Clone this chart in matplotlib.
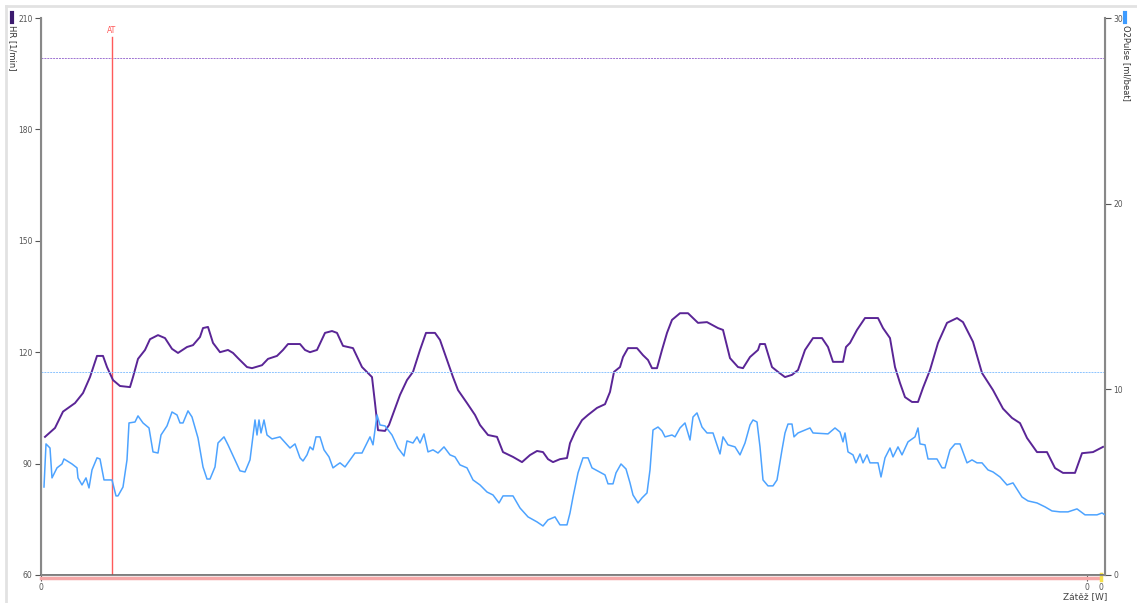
import numpy as np
import matplotlib.pyplot as plt
from matplotlib.lines import Line2D

# heart rate [1/min]: (time, value)
hr_points = [(4, 97.2), (14, 99.6), (22, 104), (34, 106.3), (42, 109), (49, 113.3), (56, 119), (62, 119),
             (66, 116), (72, 112.5), (79, 110.9), (89, 110.6), (92, 113.3), (97, 118.2), (104, 120.6),
             (109, 123.5), (117, 124.6), (124, 123.8), (131, 120.9), (137, 119.8), (146, 121.4), (152, 121.9),
             (159, 124.1), (162, 126.5), (167, 126.8), (172, 122.5), (179, 120), (187, 120.6), (192, 119.8),
             (197, 118.4), (206, 116), (211, 115.7), (221, 116.5), (227, 118.2), (236, 119), (242, 120.6),
             (247, 122.2), (259, 122.2), (264, 120.6), (269, 120), (276, 120.6), (284, 125.2), (291, 125.7),
             (296, 125.2), (302, 121.7), (312, 121.1), (321, 116), (331, 113.3), (334, 106.3), (337, 99),
             (344, 98.8), (348, 100.4), (354, 104.8), (359, 108.5), (366, 112.5), (372, 114.7), (379, 120.6),
             (385, 125.2), (394, 125.2), (399, 123.3), (406, 117.9), (412, 113.3), (417, 109.8), (426, 106.3),
             (434, 103.1), (439, 100.4), (447, 97.7), (456, 97.2), (462, 93.1), (472, 91.8), (481, 90.4),
             (489, 92.3), (496, 93.4), (502, 93.1), (507, 91.2), (512, 90.4), (519, 91.2), (526, 91.5),
             (529, 95.5), (534, 98.5), (541, 101.7), (547, 103.1), (556, 105), (564, 106), (569, 109.3),
             (573, 114.7), (579, 116), (582, 118.7), (587, 121.1), (596, 121.1), (602, 119.2), (607, 117.9),
             (611, 115.7), (616, 115.7), (621, 120.6), (626, 125.2), (631, 128.7), (639, 130.5), (647, 130.5),
             (657, 127.9), (666, 128.1), (677, 126.5), (682, 126), (689, 118.4), (697, 116), (702, 115.7),
             (709, 118.7), (717, 120.6), (719, 122.2), (724, 122.2), (731, 116), (737, 114.7), (744, 113.3),
             (751, 113.9), (757, 115.2), (764, 120.6), (772, 123.8), (781, 123.8), (787, 121.4), (792, 117.4),
             (802, 117.4), (805, 121.4), (809, 122.5), (816, 126), (824, 129.2), (837, 129.2), (842, 126.5),
             (849, 123.8), (854, 116), (859, 111.7), (864, 107.9), (871, 106.6), (877, 106.6), (882, 110.4),
             (889, 115.2), (897, 122.5), (906, 127.9), (916, 129.2), (922, 128.1), (932, 122.8), (941, 114.4),
             (952, 109.8), (962, 104.8), (971, 102.3), (979, 100.9), (986, 96.9), (996, 93.1), (1006, 93.1),
             (1014, 88.8), (1022, 87.5), (1034, 87.5), (1041, 92.8), (1052, 93.1), (1062, 94.5)]

# O2 pulse [ml/beat]: (time, value)
o2_points = [(3, 4.74), (5, 7.06), (9, 6.84), (11, 5.23), (16, 5.77), (21, 5.98), (23, 6.25), (31, 5.98),
             (36, 5.77), (37, 5.23), (41, 4.85), (45, 5.23), (48, 4.69), (51, 5.66), (56, 6.31), (59, 6.25),
             (63, 5.12), (71, 5.12), (75, 4.26), (77, 4.26), (82, 4.74), (86, 6.2), (88, 8.19), (94, 8.24),
             (97, 8.57), (102, 8.19), (108, 7.92), (112, 6.63), (117, 6.57), (120, 7.54), (126, 8.03),
             (131, 8.78), (136, 8.62), (139, 8.19), (142, 8.19), (147, 8.84), (151, 8.51), (157, 7.38),
             (162, 5.82), (166, 5.17), (169, 5.17), (174, 5.82), (177, 7.11), (183, 7.44), (187, 7.01),
             (194, 6.2), (199, 5.61), (204, 5.55), (209, 6.2), (214, 8.35), (216, 7.54), (218, 8.35),
             (220, 7.65), (223, 8.35), (226, 7.54), (231, 7.33), (239, 7.44), (249, 6.84), (254, 7.06),
             (259, 6.31), (262, 6.14), (266, 6.47), (269, 6.9), (272, 6.74), (275, 7.44), (279, 7.44),
             (283, 6.74), (288, 6.36), (292, 5.77), (296, 5.93), (299, 6.04), (304, 5.82), (309, 6.2),
             (314, 6.57), (321, 6.57), (326, 7.11), (329, 7.44), (332, 7.01), (336, 8.62), (339, 8.08),
             (344, 8.03), (351, 7.54), (357, 6.84), (363, 6.41), (366, 7.22), (372, 7.11), (376, 7.44),
             (379, 7.11), (383, 7.6), (387, 6.63), (392, 6.74), (397, 6.57), (403, 6.9), (409, 6.47),
             (414, 6.36), (419, 5.93), (426, 5.77), (432, 5.12), (439, 4.85), (446, 4.47), (452, 4.31),
             (458, 3.88), (462, 4.26), (472, 4.26), (479, 3.61), (487, 3.13), (496, 2.86), (502, 2.64),
             (507, 2.97), (514, 3.13), (519, 2.7), (526, 2.7), (529, 3.34), (532, 4.2), (537, 5.5),
             (542, 6.31), (547, 6.31), (551, 5.77), (564, 5.39), (567, 4.91), (572, 4.91), (575, 5.5),
             (580, 5.98), (585, 5.71), (589, 4.96), (592, 4.31), (597, 3.88), (601, 4.15), (606, 4.42),
             (609, 5.66), (612, 7.81), (617, 7.97), (621, 7.76), (624, 7.44), (631, 7.54), (634, 7.44),
             (639, 7.92), (644, 8.19), (649, 7.27), (652, 8.51), (656, 8.73), (661, 7.97), (666, 7.65),
             (672, 7.65), (679, 6.52), (682, 7.44), (687, 7.01), (694, 6.9), (699, 6.47), (704, 7.11),
             (709, 8.08), (712, 8.35), (716, 8.24), (719, 6.9), (722, 5.12), (727, 4.8), (732, 4.8),
             (736, 5.12), (741, 6.74), (744, 7.65), (747, 8.13), (751, 8.13), (753, 7.44), (757, 7.65),
             (769, 7.92), (772, 7.65), (787, 7.6), (794, 7.92), (799, 7.7), (802, 7.17), (804, 7.65),
             (807, 6.63), (812, 6.47), (815, 6.04), (819, 6.52), (822, 6.04), (826, 6.47), (829, 6.04),
             (837, 6.04), (840, 5.28), (844, 6.31), (849, 6.84), (852, 6.36), (857, 6.9), (861, 6.47),
             (867, 7.17), (874, 7.44), (877, 7.92), (879, 7.06), (884, 7.01), (887, 6.25), (896, 6.25),
             (901, 5.77), (904, 5.77), (909, 6.74), (914, 7.06), (919, 7.06), (926, 6.04), (931, 6.2),
             (936, 6.04), (941, 6.04), (947, 5.66), (952, 5.55), (959, 5.28), (966, 4.85), (972, 4.96),
             (981, 4.2), (987, 3.99), (996, 3.88), (1004, 3.67), (1011, 3.45), (1019, 3.4), (1027, 3.4),
             (1036, 3.56), (1044, 3.24), (1056, 3.24), (1061, 3.34), (1064, 3.24)]

hr_max = 199.2
o2_ref = 10.95
at_t = 71
x_end = 1064
x_ticks = [0, 1046, 1060]
x_tick_labels = ['0', '0', '0']

hr_t, hr = np.array(hr_points).T
o2_t, o2 = np.array(o2_points).T

gray = '#555555'
fig = plt.figure(figsize=(11.37, 6.03), dpi=100)
ax = fig.add_axes([41/1137, 1-575/603, 1064/1137, 557/603])
ax2 = ax.twinx()

ax.plot(hr_t, hr, color='#5a2596', lw=1.4, zorder=3)
ax2.plot(o2_t, o2, color='#4da3ff', lw=1.1, zorder=3)

ax.axhline(hr_max, color='#9d72d2', lw=0.7, ls=(0, (2, 1)))
ax2.axhline(o2_ref, color='#8cc4ff', lw=0.7, ls=(0, (2, 1)))
ax.axvline(at_t, ymax=(205-60)/150, color='#ff5a5a', lw=1)
ax.text(at_t, 206.5, 'AT', color='#ff5a5a', fontsize=5.5, ha='center', va='center')

ax.set_xlim(0, x_end)
ax.set_ylim(60, 210)
ax2.set_ylim(0, 30)
ax.set_yticks([60, 90, 120, 150, 180, 210])
ax2.set_yticks([0, 10, 20, 30])
ax.set_xticks(x_ticks)
ax.set_xticklabels(x_tick_labels)

for a in (ax, ax2):
    for s in a.spines.values():
        s.set_color('#888888')
    a.spines['top'].set_visible(False)
    a.tick_params(colors=gray, labelsize=5.5, length=4, width=0.8, pad=2)
ax.spines['left'].set_linewidth(1.5)
ax2.spines['right'].set_linewidth(1.5)
ax.spines['bottom'].set_color('#666666')
ax.spines['bottom'].set_linewidth(1.2)

# pink band along x axis, small yellow mark
ax.add_artist(Line2D([0, 1059], [59.3, 59.3], color='#f6a8a8', lw=2.5, clip_on=False))
ax.add_artist(Line2D([1060, 1060], [58.6, 60.3], color='#f5e04a', lw=2.5, clip_on=False))

# axis labels with colour markers
fig.text(12/1137, 1-25/603, 'HR [1/min]', rotation=270, ha='center', va='top', fontsize=6, color='#333333')
fig.add_artist(Line2D([12/1137, 12/1137], [1-13/603, 1-22/603], color='#3b1a6e', lw=3))
fig.text(1126/1137, 1-25/603, 'O2Pulse [ml/beat]', rotation=270, ha='center', va='top', fontsize=6, color='#333333')
fig.add_artist(Line2D([1125/1137, 1125/1137], [1-13/603, 1-22/603], color='#3d9bff', lw=3))
fig.text(1085/1137, 1-597/603, 'Zátěž [W]', ha='center', va='center', fontsize=6.5, color='#444444')

# light frame
fig.add_artist(Line2D([6/1137, 1], [1-6/603, 1-6/603], color='#e2e2e2', lw=2))
fig.add_artist(Line2D([6/1137, 6/1137], [0, 1-6/603], color='#e2e2e2', lw=2))

fig.savefig('out.png', dpi=100)
